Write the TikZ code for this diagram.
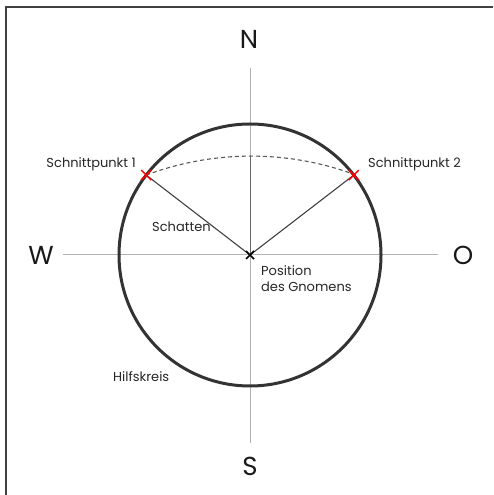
\documentclass[tikz,border=0pt]{standalone}
\usepackage{fontspec}
\setmainfont{Poppins}
\usetikzlibrary{calc}
\begin{document}
\begin{tikzpicture}[x=1pt,y=1pt,
  axis/.style={draw=black!30,line width=1pt},
  shadow/.style={draw=black!75,line width=1.1pt},
  compass/.style={font=\fontsize{26}{26}\selectfont,text=black!90,inner sep=0pt},
  lbl/.style={font=\fontsize{13}{16}\selectfont,text=black!85,inner sep=0pt},
  crossmark/.style={line width=1.5pt}]
\useasboundingbox (0,0) rectangle (493,495);
\draw[black!75,line width=1.2pt] (6,0) -- (6,488) -- (493,488);
\coordinate (C) at (250,240);
% compass labels
\node[compass] (N) at (249,456) {N};
\node[compass] (S) at (250,29) {S};
\node[compass] (W) at (41,240) {W};
\node[compass] (O) at (463,240) {O};
% axes
\coordinate (Ntop) at (250,427);
\coordinate (Sbot) at (250,52);
\coordinate (Wl) at (63,240);
\coordinate (Or) at (438,240);
\draw[axis] (Ntop) -- (Sbot);
\draw[axis] (Wl) -- (Or);
% circle
\draw[black!80,line width=3pt] (C) circle[radius=131];
% points
\coordinate (P1) at ($(C)+(142.4:131)$);
\coordinate (P2) at ($(C)+(37.6:131)$);
\coordinate (T) at (250,340);
% dashed arc
\draw[black!65,line width=1.1pt,dash pattern=on 4pt off 3pt] (P1) arc[start angle=110.5,end angle=69.5,radius=299.6];
% shadow lines
\draw[shadow] (C) -- (P1);
\draw[shadow] (C) -- (P2);
\draw[shadow,draw=black!60,line width=0.9pt] (C) -- (T);
% markers
\draw[crossmark,red] ($(P1)+(-5,-5)$) -- ($(P1)+(5,5)$) ($(P1)+(-5,5)$) -- ($(P1)+(5,-5)$);
\draw[crossmark,red] ($(P2)+(-5,-5)$) -- ($(P2)+(5,5)$) ($(P2)+(-5,5)$) -- ($(P2)+(5,-5)$);
\draw[crossmark,black] ($(C)+(-4,-4)$) -- ($(C)+(4,4)$) ($(C)+(-4,4)$) -- ($(C)+(4,-4)$);
% labels
\node[lbl,anchor=east] (s1) at (136,331) {Schnittpunkt 1};
\node[lbl,anchor=west] (s2) at (368,331) {Schnittpunkt 2};
\node[lbl,anchor=west] (sch) at (152,268) {Schatten};
\node[lbl,anchor=north west,align=left] (pos) at (261,230) {Position\\des Gnomens};
\node[lbl,anchor=west] (hk) at (113,118) {Hilfskreis};
\end{tikzpicture}
\end{document}
